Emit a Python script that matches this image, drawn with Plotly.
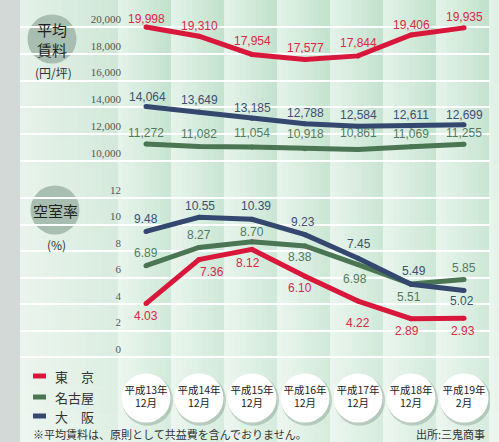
import plotly.graph_objects as go

# ---------------- data ----------------
categories = ["平成13年<br>12月", "平成14年<br>12月", "平成15年<br>12月", "平成16年<br>12月",
              "平成17年<br>12月", "平成18年<br>12月", "平成19年<br>2月"]
city_names = ["東　京", "名古屋", "大　阪"]

rent_tokyo = [19998, 19310, 17954, 17577, 17844, 19406, 19935]
rent_nagoya = [11272, 11082, 11054, 10918, 10861, 11069, 11255]
rent_osaka = [14064, 13649, 13185, 12788, 12584, 12611, 12699]

vac_tokyo = [4.03, 7.36, 8.12, 6.10, 4.22, 2.89, 2.93]
vac_nagoya = [6.89, 8.27, 8.70, 8.38, 6.98, 5.51, 5.85]
vac_osaka = [9.48, 10.55, 10.39, 9.23, 7.45, 5.49, 5.02]

rent_ticks = [10000, 12000, 14000, 16000, 18000, 20000]
rent_ticktext = ["10,000", "12,000", "14,000", "16,000", "18,000", "20,000"]
vac_ticks = [0, 2, 4, 6, 8, 10, 12]
vac_ticktext = ["0", "2", "4", "6", "8", "10", "12"]

# label offsets in px (dx, dy; dy positive = downward)
off_rent_tokyo = [(0, -8), (0, -10), (0, -13), (0, -11), (0, -13), (0, -10), (0, -11)]
off_rent_nagoya = [(0, -11), (0, -13), (0, -14), (0, -15), (0, -16), (0, -13), (0, -11)]
off_rent_osaka = [(1, -10), (0, -12), (0, -10), (0, -11), (0, -11), (0, -11), (0, -10)]
off_vac_tokyo = [(0, 12), (13, 13), (-4, 14), (-5, 12), (0, 22), (-4, 12), (-1, 13)]
off_vac_nagoya = [(0, -13), (0, -12), (0, -10), (-5, 11), (-3, 14), (-2, 13), (0, -11)]
off_vac_osaka = [(0, -12), (1, -11), (4, -13), (-2, -13), (1, -14), (3, -13), (-2, 11)]

# ---------------- style ----------------
W, H = 499, 442
RED, GREEN, NAVY = "#d9173b", "#4a7654", "#34476f"
RED_T, GREEN_T, NAVY_T = "#dc2844", "#527b5d", "#3e4e75"
JP = "Noto Sans CJK JP"
LAT = "Liberation Sans"


def fx(p):
    return p / W


def fy(p):
    return 1 - p / H


x_idx = list(range(len(categories)))
X0_PX, STEP_PX = 146, 53
RENT_Y20K, RENT_PX_PER = 27, 0.0134   # px of 20,000 and px per unit
VAC_Y0, VAC_PX_PER = 357, 13.25

fig = go.Figure()

# line traces
for vals, ax, col in [(rent_tokyo, "y", RED), (rent_osaka, "y", NAVY), (rent_nagoya, "y", GREEN),
                      (vac_nagoya, "y2", GREEN), (vac_osaka, "y2", NAVY), (vac_tokyo, "y2", RED)]:
    fig.add_trace(go.Scatter(x=x_idx, y=vals, xaxis="x", yaxis=ax, mode="lines+markers",
                             line=dict(color=col, width=5), marker=dict(size=5, color=col),
                             hoverinfo="skip", showlegend=False))

# category circles (shadow + circle + text)
fig.add_trace(go.Scatter(x=[i + 0.03 for i in x_idx], y=[-0.05] * len(x_idx), xaxis="x", yaxis="y3",
                         mode="markers", marker=dict(size=51, color="rgba(80,110,90,0.28)", line=dict(width=0)),
                         hoverinfo="skip", showlegend=False))
fig.add_trace(go.Scatter(x=x_idx, y=[0] * len(x_idx), xaxis="x", yaxis="y3",
                         mode="markers+text", text=categories, textposition="middle center",
                         textfont=dict(family=JP, size=10.5, color="#222222"),
                         marker=dict(size=49, color="white", line=dict(width=0)),
                         hoverinfo="skip", showlegend=False))

# data labels
annotations = []
for vals, offs, ax, col, fmt in [
    (rent_tokyo, off_rent_tokyo, "y", RED_T, "{:,}"),
    (rent_nagoya, off_rent_nagoya, "y", GREEN_T, "{:,}"),
    (rent_osaka, off_rent_osaka, "y", NAVY_T, "{:,}"),
    (vac_tokyo, off_vac_tokyo, "y2", RED_T, "{:.2f}"),
    (vac_nagoya, off_vac_nagoya, "y2", GREEN_T, "{:.2f}"),
    (vac_osaka, off_vac_osaka, "y2", NAVY_T, "{:.2f}"),
]:
    for i, v in enumerate(vals):
        dx, dy = offs[i]
        annotations.append(dict(x=i, y=v, xref="x", yref=ax, text=fmt.format(v), showarrow=False,
                                xanchor="center", yanchor="middle",
                                xshift=dx, yshift=-dy, font=dict(family=LAT, size=12, color=col)))

# ---------------- background shapes ----------------
shapes = []


def mix(c1, c2, t):
    return "rgb(%d,%d,%d)" % tuple(round(a + (b - a) * t) for a, b in zip(c1, c2))


def grad_block(a, b, c1, c2, n):
    w = (b - a) / n
    for k in range(n):
        x0 = a + k * w
        x1 = min(a + (k + 1) * w + 0.6, W)
        shapes.append(dict(type="rect", xref="paper", yref="paper", x0=fx(x0), x1=fx(x1),
                           y0=0, y1=1, fillcolor=mix(c1, c2, (k + 0.5) / n),
                           line=dict(width=0), layer="below"))


shapes.append(dict(type="rect", xref="paper", yref="paper", x0=0, x1=fx(20), y0=0, y1=1,
                   fillcolor="#d3d9d6", line=dict(width=0), layer="below"))
grad_block(20, 118, (229, 241, 233), (206, 231, 214), 12)
col_left, col_right = (228, 243, 233), (192, 225, 203)
edge = 118
while edge < W:
    grad_block(edge, edge + 53, col_left, col_right, 10)
    edge += 53

nb = 16
for k in range(nb):
    a = 0.34 * k / (nb - 1)
    shapes.append(dict(type="rect", xref="paper", yref="paper", x0=fx(20), x1=1,
                       y0=fy(H * (k + 1) / nb + 0.5), y1=fy(H * k / nb),
                       fillcolor="rgba(255,255,255,%.3f)" % a, line=dict(width=0), layer="below"))

# title circles
for cx, cy in [(52, 39), (55, 210)]:
    shapes.append(dict(type="circle", xref="paper", yref="paper", x0=fx(cx - 24.5), x1=fx(cx + 24.5),
                       y0=fy(cy + 24.5), y1=fy(cy - 24.5), fillcolor="#a8beb0",
                       line=dict(width=0), layer="below"))

# legend swatches
for col, ypx in [(RED, 376), (GREEN, 397), (NAVY, 416)]:
    shapes.append(dict(type="line", xref="paper", yref="paper", x0=fx(33), x1=fx(46), y0=fy(ypx), y1=fy(ypx),
                       line=dict(color=col, width=5), layer="above"))
for name, ypx in zip(city_names, [376, 397, 416]):
    annotations.append(dict(x=fx(53), y=fy(ypx), xref="paper", yref="paper", text=name, showarrow=False,
                            xanchor="left", yanchor="middle", font=dict(family=JP, size=13, color="#333333")))


def ptext(xp, yp, text, size, color, xanchor="center"):
    return dict(x=fx(xp), y=fy(yp), xref="paper", yref="paper", text=text, showarrow=False,
                xanchor=xanchor, yanchor="middle", font=dict(family=JP, size=size, color=color))


# titles and notes
annotations += [
    ptext(52, 39, "平均<br>賃料", 15, "#1e1e1e"),
    ptext(53, 73, "(円/坪)", 12, "#333333"),
    ptext(55, 210, "空室率", 15, "#1e1e1e"),
    ptext(56, 244, "(%)", 12, "#333333"),
    ptext(31, 434, "※平均賃料は、原則として共益費を含んでおりません。", 11, "#333333", "left"),
    ptext(487, 434, "出所:三鬼商事", 11, "#333333", "right"),
]

rent_top_px, rent_bot_px = 0, 175
vac_top_px, vac_bot_px = 176, 365
circ_c, circ_half = 398, 44

common_y = dict(anchor="free", position=fx(121), side="left", ticks="", ticklabelshift=-8,
                tickfont=dict(family="Liberation Serif", size=11, color="#555555"),
                showgrid=True, gridcolor="white", gridwidth=1.5, zeroline=False, showline=False,
                automargin=False, fixedrange=True)

fig.update_layout(
    template="none",
    width=W, height=H, margin=dict(l=0, r=0, t=0, b=0, pad=0, autoexpand=False),
    paper_bgcolor="#e3f0e7", plot_bgcolor="rgba(0,0,0,0)",
    showlegend=False, shapes=shapes, annotations=annotations,
    xaxis=dict(domain=[fx(20), fx(490)], range=[(20 - X0_PX) / STEP_PX, (490 - X0_PX) / STEP_PX],
               visible=False, fixedrange=True, automargin=False),
    yaxis=dict(domain=[fy(rent_bot_px), fy(rent_top_px)],
               range=[20000 - (rent_bot_px - RENT_Y20K) / RENT_PX_PER, 20000 + (RENT_Y20K - rent_top_px) / RENT_PX_PER],
               tickvals=rent_ticks, ticktext=rent_ticktext, **common_y),
    yaxis2=dict(domain=[fy(vac_bot_px), fy(vac_top_px)],
                range=[(VAC_Y0 - vac_bot_px) / VAC_PX_PER, (VAC_Y0 - vac_top_px) / VAC_PX_PER],
                tickvals=vac_ticks, ticktext=vac_ticktext, **common_y),
    yaxis3=dict(domain=[fy(circ_c + circ_half), fy(circ_c - circ_half)], range=[-1, 1],
                anchor="x", visible=False, fixedrange=True, automargin=False),
)

fig.write_html("out.html", config={"displayModeBar": False},
               post_script="document.body.style.margin='0';document.body.style.overflow='hidden';")
